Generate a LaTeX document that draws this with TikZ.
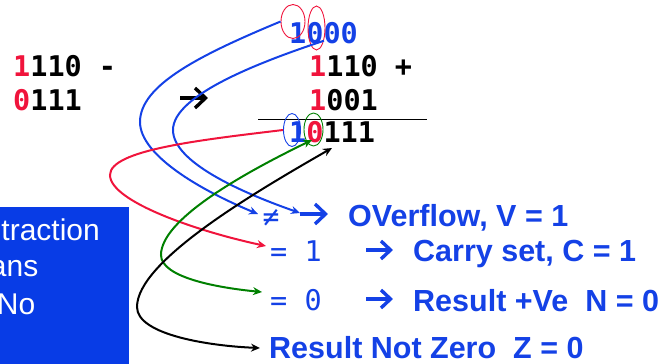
\documentclass[tikz,border=0pt]{standalone}
\usepackage{fontspec}
\setmainfont{Liberation Sans}
\newfontfamily\monofam{DejaVu Sans Mono}
\newfontfamily\monobold{DejaVu Sans Mono Bold}
\usetikzlibrary{shapes.geometric,arrows.meta}
\definecolor{boxblue}{RGB}{8,60,230}
\definecolor{txtblue}{RGB}{20,65,230}
\definecolor{digred}{RGB}{240,20,60}
\definecolor{curvegreen}{RGB}{0,128,0}
\tikzset{
  mono/.style={inner sep=0pt, anchor=base west, font=\monobold\fontsize{28.5}{34}\selectfont},
  monolight/.style={inner sep=0pt, anchor=base west, font=\monofam\fontsize{28.5}{34}\selectfont},
  bold/.style={inner sep=0pt, anchor=base west, text=txtblue, font=\fontsize{30.5}{36}\selectfont\bfseries},
  boxtext/.style={inner sep=0pt, anchor=base east, text=white, font=\fontsize{30}{36}\selectfont},
  ring/.style={ellipse, draw, line width=0.9pt, inner sep=0pt},
  curve/.style={line width=2pt, -{Stealth[length=9pt,width=8pt]}},
  bicurve/.style={line width=2pt, {Stealth[length=9pt,width=8pt]}-{Stealth[length=9pt,width=8pt]}},
  bigarr/.style={line width=3.4pt, line cap=butt, line join=miter}
}
\begin{document}
\begin{tikzpicture}[x=1pt,y=-1pt]
\useasboundingbox (0,0) rectangle (667,364);
\clip (0,0) rectangle (667,364);

% blue box on the left
\fill[boxblue] (0,207) rectangle (129,364);
\node[boxtext] (b1) at (100,240) {traction};
\node[boxtext] (b2) at (38.5,276) {ans};
\node[boxtext] (b3) at (35.5,314) {No};

% left subtraction
\node[mono] (s1) at (13,76.7) {\textcolor{digred}{1}110 -};
\node[mono] (s2) at (13,110) {\textcolor{digred}{0}111};
\draw[bigarr] (180,98) -- (205,98);
\draw[bigarr] (195,88) -- (205.5,98) -- (195,108);

% right addition
\node[mono, text=txtblue] (carry) at (289,43.3) {1000};
\node[mono] (a1) at (309,76.7) {\textcolor{digred}{1}110 +};
\node[mono] (a2) at (309,110) {\textcolor{digred}{1}001};
\coordinate (ruleL) at (258,119.5);
\coordinate (ruleR) at (427,119.5);
\draw[line width=0.9pt] (ruleL) -- (ruleR);
\node[mono] (res) at (289,142) {\textcolor{txtblue}{1}\textcolor{digred}{0}111};

% rings
\node[ring, draw=digred, minimum width=24pt, minimum height=34pt] (c1) at (293,21.5) {};
\node[ring, draw=digred, minimum width=17pt, minimum height=44pt] (c2) at (316.5,28) {};
\node[ring, draw=txtblue, minimum width=17pt, minimum height=33pt] (r1) at (292,130) {};
\node[ring, draw=curvegreen, minimum width=19pt, minimum height=33pt] (r2) at (313.5,129.5) {};

% labels on the right
\node[inner sep=0pt, anchor=base, text=txtblue, font=\monofam\fontsize{28}{34}\selectfont] (ne) at (271,226.5) {≠};
\draw[bigarr, txtblue] (300,214) -- (325,214);
\draw[bigarr, txtblue] (315,204) -- (325.5,214) -- (315,224);
\node[bold] (ov) at (348,226) {OVerflow, V = 1};

\node[monolight, text=txtblue] (eq1) at (270,261) {= 1};
\draw[bigarr, txtblue] (366,250) -- (390,250);
\draw[bigarr, txtblue] (381,241) -- (390.5,250) -- (381,259);
\node[bold] (cs) at (413,261) {Carry set, C = 1};

\node[monolight, text=txtblue] (eq0) at (270,310) {= 0};
\draw[bigarr, txtblue] (366,299) -- (390,299);
\draw[bigarr, txtblue] (381,290) -- (390.5,299) -- (381,308);
\node[bold] (rp) at (413,311) {Result +Ve\ \ N = 0};

\node[bold] (rz) at (269,358) {Result Not Zero\ \ Z = 0};

% connectors
\coordinate (blueEndA) at (258,214);
\coordinate (blueEndB) at (300,213);
\coordinate (redEnd) at (266,246);
\coordinate (greenTop) at (312,140);
\coordinate (greenEnd) at (262,292);
\coordinate (blackTop) at (332,148);
\coordinate (blackEnd) at (260,348);

\draw[curve, txtblue] (c1.west) .. controls (200,55) and (140,85) .. (140,122)
   .. controls (140,155) and (200,190) .. (blueEndA);
\draw[curve, txtblue] (c2.300) .. controls (260,62) and (173,95) .. (173,130)
   .. controls (173,162) and (240,192) .. (blueEndB);
\draw[curve, digred] (r1.west) .. controls (200,140) and (110,150) .. (110,175)
   .. controls (110,202) and (200,232) .. (redEnd);
\draw[bicurve, curvegreen] (greenTop) .. controls (240,175) and (161,220) .. (161,255)
   .. controls (161,278) and (220,288) .. (greenEnd);
\draw[bicurve, black] (blackTop) .. controls (250,195) and (137,262) .. (137,307)
   .. controls (137,335) and (210,346) .. (blackEnd);
\end{tikzpicture}
\end{document}
